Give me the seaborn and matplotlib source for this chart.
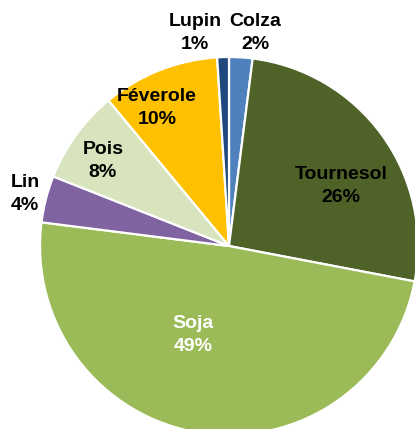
import matplotlib
matplotlib.use("Agg")
import matplotlib.pyplot as plt
import seaborn as sns

sns.set_theme(style="white")
plt.rcParams['font.family'] = ['Liberation Sans', 'DejaVu Sans']

# data (clockwise from the top)
cultures = ["Colza", "Tournesol", "Soja", "Lin", "Pois", "Féverole", "Lupin"]
parts = [2, 26, 49, 4, 8, 10, 1]
couleurs = ["#4F81BD", "#4F6228", "#9BBB59", "#8064A2", "#D7E4BD", "#FFC000", "#1F497D"]

# label placement (pie units) and text colour
label_pos = [(0.138, 1.127), (0.593, 0.317), (-0.19, -0.471), (-1.079, 0.275),
             (-0.667, 0.45), (-0.381, 0.730), (-0.18, 1.127)]
label_col = ["black", "black", "white", "black", "black", "black", "black"]

fig = plt.figure(figsize=(4.15, 4.29), dpi=100)
ax = fig.add_axes([40 / 415, (429 - 435) / 429, 378 / 415, 378 / 429])

ax.pie(parts, colors=couleurs, startangle=90, counterclock=False,
       wedgeprops=dict(edgecolor="white", linewidth=1.6))
ax.set_xlim(-1, 1)
ax.set_ylim(-1, 1)
ax.set_aspect("equal")
ax.axis("off")

for nom, p, (x, y), c in zip(cultures, parts, label_pos, label_col):
    ax.text(x, y, f"{nom}\n{p}%", ha="center", va="center", fontsize=14,
            fontweight="bold", color=c, linespacing=1.45)

fig.savefig("out.png", dpi=100)
